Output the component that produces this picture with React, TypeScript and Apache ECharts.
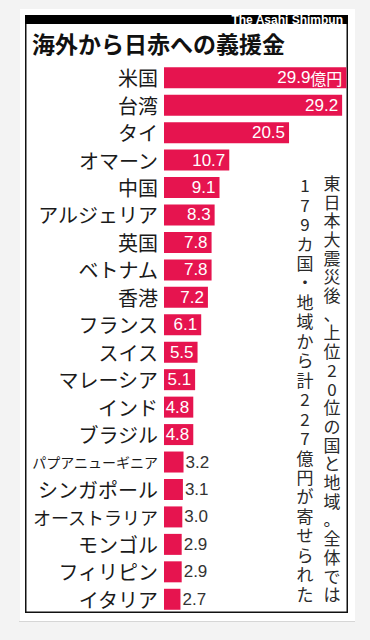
import React, { useEffect, useRef } from "react";
import * as echarts from "echarts";

const categories = [
  "米国", "台湾", "タイ", "オマーン", "中国", "アルジェリア", "英国", "ベトナム", "香港", "フランス",
  "スイス", "マレーシア", "インド", "ブラジル", "パプアニューギニア", "シンガポール", "オーストラリア", "モンゴル", "フィリピン", "イタリア",
];
const values = [29.9, 29.2, 20.5, 10.7, 9.1, 8.3, 7.8, 7.8, 7.2, 6.1, 5.5, 5.1, 4.8, 4.8, 3.2, 3.1, 3.0, 2.9, 2.9, 2.7];
const unit = "億円";
const title = "海外から日赤への義援金";
const credit = "The Asahi Shimbun";
const noteRight = ["東", "日", "本", "大", "震", "災", "後", "、", "上", "位", "2", "0", "位", "の", "国", "と", "地", "域", "。", "全", "体", "で", "は"];
const noteLeft = ["1", "7", "9", "カ", "国", "・", "地", "域", "か", "ら", "計", "2", "2", "7", "億", "円", "が", "寄", "せ", "ら", "れ", "た"];

const JP = '"Noto Sans CJK JP", "Noto Sans CJK SC", sans-serif';
const NUM = '"Liberation Sans", Arial, sans-serif';
const RED = "#e6144f";

export default function App() {
  const ref = useRef<HTMLDivElement>(null);
  useEffect(() => {
    if (!ref.current) return;
    const chart = echarts.init(ref.current, null, { renderer: "svg" });
    const data = values.map((v, i) => {
      const inside = v >= 4;
      return {
        value: v,
        label: {
          show: true,
          position: inside ? "insideRight" : "right",
          distance: inside ? 4 : 2,
          color: inside ? "#ffffff" : "#333333",
          fontFamily: NUM,
          fontSize: 17,
          formatter: () => (i === 0 ? v.toFixed(1) + "{u|" + unit + "}" : v.toFixed(1)),
          rich: { u: { fontFamily: JP, fontSize: 16, color: "#ffffff" } },
        },
      };
    });
    chart.setOption({
      animation: false,
      backgroundColor: "#f3f3f3",
      grid: { left: 164, top: 64, width: 183, height: 549, containLabel: false },
      xAxis: { type: "value", min: 0, max: 30, show: false },
      yAxis: {
        type: "category",
        data: categories,
        inverse: true,
        axisLine: { show: false },
        axisTick: { show: false },
        axisLabel: {
          margin: 6,
          color: "#1a1a1a",
          fontFamily: JP,
          fontSize: 20,
          formatter: (v: string) => (v.length >= 9 ? "{s|" + v + "}" : v.length >= 7 ? "{m|" + v + "}" : v),
          rich: {
            s: { fontFamily: JP, fontSize: 14, color: "#1a1a1a" },
            m: { fontFamily: JP, fontSize: 18, color: "#1a1a1a" },
          },
        },
      },
      graphic: [
        { type: "rect", shape: { x: 20, y: 9, width: 335, height: 612 }, style: { fill: "#ffffff" }, z: -10 },
        { type: "rect", shape: { x: 19, y: 621, width: 336, height: 1 }, style: { fill: "#d6d6d6" }, z: -10 },
        { type: "rect", shape: { x: 25.75, y: 15.75, width: 321.5, height: 596.5 }, style: { fill: "none", stroke: "#111111", lineWidth: 1.5 }, z: -5 },
        { type: "rect", shape: { x: 25, y: 15, width: 323, height: 9 }, style: { fill: "#000000" }, z: -5 },
        {
          type: "text", x: 343, y: 20,
          style: { text: credit, fill: "#ffffff", fontFamily: '"Liberation Sans", Arial, sans-serif', fontWeight: "bold", fontSize: 12, textAlign: "right", textVerticalAlign: "middle" },
        },
        {
          type: "text", x: 32, y: 43,
          style: { text: title, fill: "#111111", fontFamily: JP, fontWeight: "bold", fontSize: 23, textAlign: "left", textVerticalAlign: "middle" },
        },
        {
          type: "text", x: 332, y: 173,
          style: { text: noteRight.join("\n"), fill: "#2a2a2a", fontFamily: JP, fontSize: 17, lineHeight: 18.7, textAlign: "center", textVerticalAlign: "top" },
        },
        {
          type: "text", x: 305, y: 175,
          style: { text: noteLeft.join("\n"), fill: "#2a2a2a", fontFamily: JP, fontSize: 17, lineHeight: 19.45, textAlign: "center", textVerticalAlign: "top" },
        },
      ],
      series: [
        {
          type: "bar",
          data,
          barWidth: 21,
          itemStyle: { color: RED },
        },
      ],
    });
    return () => chart.dispose();
  }, []);
  return <div ref={ref} style={{ position: "absolute", left: 0, top: 0, width: 370, height: 640 }} />;
}
